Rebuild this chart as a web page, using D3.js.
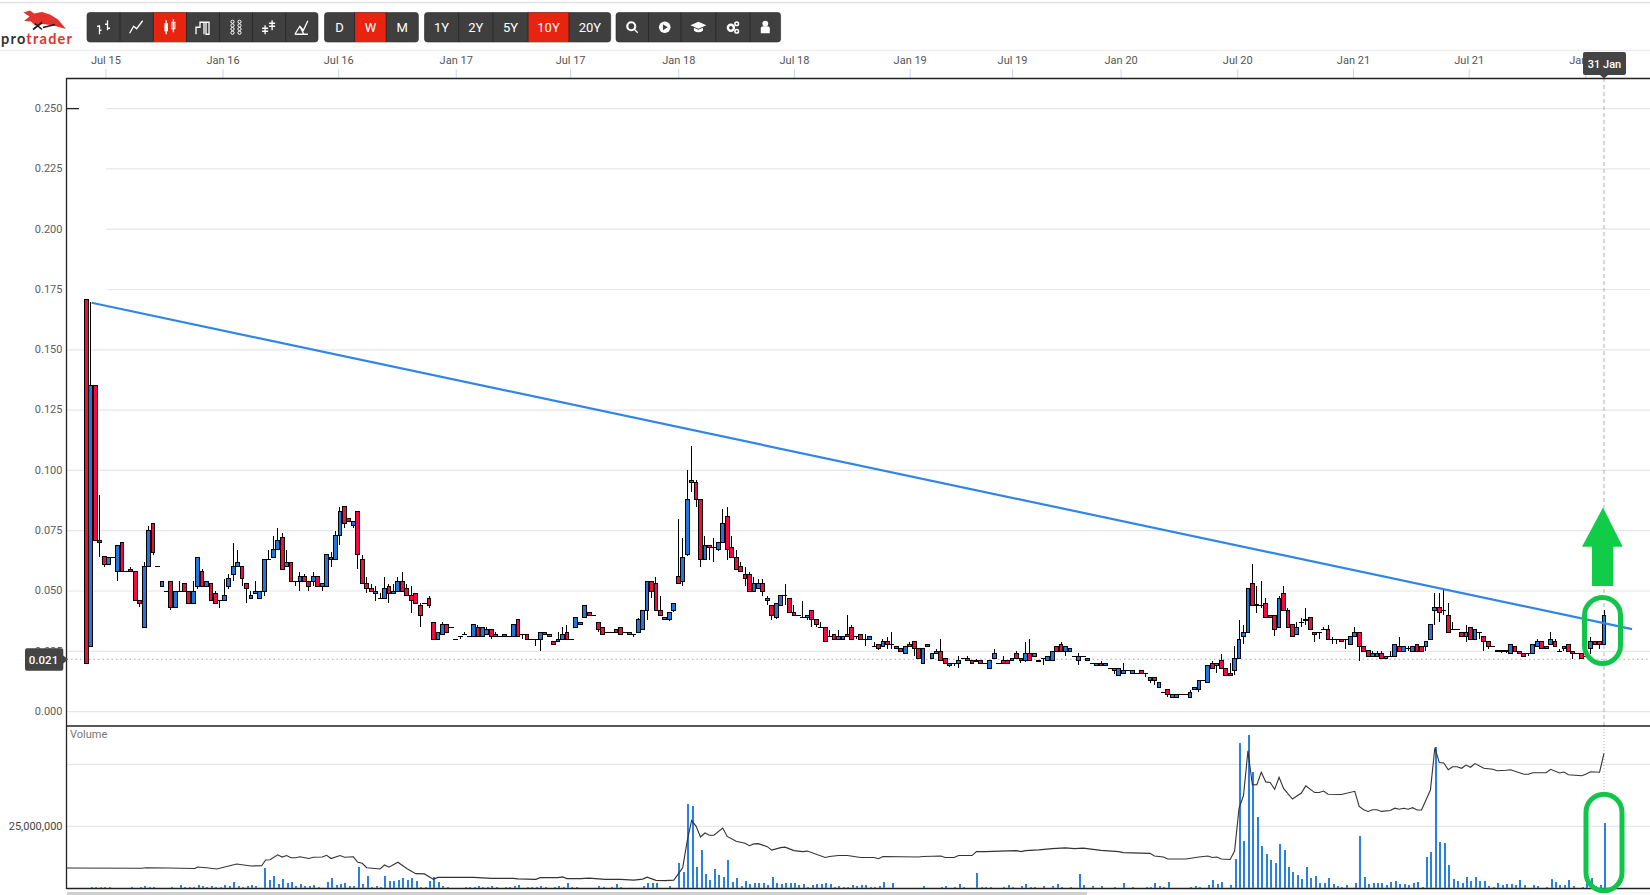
<!DOCTYPE html>
<html>
<head>
<meta charset="utf-8">
<title>protrader weekly chart</title>
<script src="https://cdn.jsdelivr.net/npm/d3@7"></script>
<style>
  html, body { margin: 0; padding: 0; background: #fff; overflow: hidden; }
  svg { display: block; font-family: Roboto, sans-serif; }
  .axis path { display: none; }
  .candle rect, .candle line, .vol rect { shape-rendering: crispEdges; }
</style>
</head>
<body>
<svg id="chart" width="1650" height="895"></svg>
<script>
// weekly candles, in thousandths of a dollar (row = 10 weeks)
const opens = [
171,27,135,71,64.5,61,64,58,70,58,
59,58,46,35,60,78,60,52,50,54,
43,50,53,50,45,52,58,52,53,49,
46,46,52,57,60,60,53,47,49,47,
50,63,64,67,72,60,62,54,54,56,
54,54,56,52,52,63,63,73,85,80,
77,83,63,53,51,49,47,47,52,49,
50,54,51,48,49,44,45,47,37,30,
32,36,35,30,31,32,31,31,35,31,
32,34,31,31,32,31,31,38,32,32,
30,30,30,33,32,29,29,30,33,30,
35,36,39,41,40,37,35,33,33,34,
35,33,33,32,33,34,42,54,53,42,
38,38,42,56,54,65,96,95,88,63,
69,68,67,70,81,68,64,60,57,57,
50,51,53,46,44,39,44,48,47,41,
40,39,39,42,38,35,35,31,32,30,
30,32,35,31,32,30,30,27,28,27,
29,28,27,26,24,27,29,26,20,28,
22,24,25,22,19,20,20,22,22,21,
21,21,20,18,22,20,21,21,21,24,
22,21,24,23,21,22,21,21,27,28,
25,25,23,21,23,21,20,19,20,19,
18,18,15,16,17,16,16,17,16,13,
14,10,8,9,6,6,7,7,6,9,
9,13,12,20,19,21,18,16,17,22,
31,33,53,44.5,44,45,40,40,35,49,
42,36,32,37,38,39,33,33,34,34,
30,30,30,30,28,31,33,27,25.5,23,
23,24,22,23,23,27,25,26,25,28,
27,27,30,42,43,42,40,34,34,33,
31,35,30,33,31,29,27,25.5,25,25.5,
24,27,25,24,24,24,27,29,27,28,
29,25,26,28,25,24,24,23,26,29,
29,28];
const closes = [
20,135,71,70,61,64,64,69,58,58,
58,46,45,60,75,66,60,54,50,43,
50,50,50,45,50,64,52,54,46,45,
46,48,55,60,62,55,51,48,50,50,
63,63,67,71,59,62,54,54,56,54,
52,56,52,53,65,64,73,83,78,79,
79,65,53,51,50,50,47,51,49,50,
54,50,48,46,45,40,45,44,30,33,
36,33,35,30,31,32,31,36,31,35,
34,31,32,31,31,31,36,31,32,30,
30,30,33,32,31,28,30,32,30,30,
39,37,44,40,40,34,32,33,33,33,
32,33,32,32,38,42,54,50,42,40,
39,41,45,53,64,88,95,88,63,69,
68,68,70,78,67,64,59,58,55,50,
53,53,50,47,40,45,48,48,41,40,
40,39,40,38,36,35,29,31,30,31,
31,31,30,31,30,30,31,27,26,29,
28,28,26,25,27,28,26,22,26,27,
24,25,21,20,20,20,21,22,21,20,
21,20,20,21,24,20,20,20,22,22,
21,24,21,24,21,22,23,25,25,25,
27,26,23,23,23,22,20,20,19,20,
18,17,18,17,17,17,16,16,16,14,
13,12,8,7,7,7,7,7,8,10,
13,13,19,18,20,18,15,15,22,30,
33,51,44,44,44,39,39,34,47,42,
35,31,35,37,38,34,32,33,34,30,
30,30,29,30,31,33,27,25,23,24,
24,22,23,23,28,25,27,26,27,25,
25,29,36,43,41,42,33,34,34,31,
33,30,34,33,29,27,27,25,25.5,25,
28,25,24,23,24,28,29,26,26,30,
27,25,27,25,24,24,22,23,29,28,
28,40];
const highs = [
171,170,135,90,64.5,64,64,69,70,58,
60,58,46,62,77,78,60,54,50,54,
50,54,53,50,54,64,59,54,53,50,
46,55,57,70,67,60,53,50,54,50,
63,67,73,76,74,67,62,54,58,57,
54,58,56,53,65,66,75,85,85,80,
79,83,65,56,53,52,49,56,53,53,
56,58,53,52,49,45,45,48,37,33,
37,36,35,30,31,33,31,36,36,35,
35,34,33,31,32,31,36,38,32,32,
30,30,33,33,32,29,33,35,36,30,
39,37,44,41,40,37,35,33,33,34,
35,33,33,32,39,42,54,54,56,48,
39,41,45,80,72,100,110,96,88,73,
69,72,70,84,85,73,67,62,60,58,
56,55,55,48,44,45,48,53,47,44,
40,46,40,42,38,37,35,34,32,34,
31,40,36,31,32,32,31,29,28,30,
31,33,27,26,27,29,29,26,26,28,
24,26,30,22,20,20,23,22,23,21,
22,21,20,21,26,20,23,21,22,25,
22,29,30,24,21,22,23,25,27,29,
27,26,23,24.5,23,22,20,20,21,20,
18,18,18,20,17,17,16,17,16,14,
14,12,8,9,7,7,7,7,9,10,
13,13,19,21,20,24,18,20,27,38,
36,51,61,52,54,47,40,40,48,52,
43,36,37,39,43,39,33,33,35,36,
31,30,30,30,31,35,33,27,25.5,25,
25,25,23,25,28,31,27,27,27,28,
27,29,36,49,49,51,45,37,34,33,
36,35,34,33,31,29,27,25.5,25.5,25.5,
28,27,25,24,24,28,30,29,27,33,
30,26,27,28,25,24,24,23,31,29,
29,42];
const lows = [
20,27,71,64,60,61,64,54,58,58,
58,46,43.5,34.5,60,65,60,52,50,42,
43,50,50,45,45,51,52,52,46,45,
43,46,51,54,60,52,45,47,49,47,
48,63,64,67,58.5,60,54,52,50,54,
50,52,52,50,52,60,63,69,76,79,
76,59,53,49,49.5,46,47,47,45,49,
50,50,48,41,45,35,45,43,29.5,29.5,
32,33,35,30,30,32,31,31,31,31,
32,30,31,31,31,31,31,31,30,30,
30,27,25,32,31,28,29,30,30,30,
35,36,39,40,40,33,32,33,33,33,
32,33,32,31,33,34,38,47,42,40,
38,37.5,41.5,53,52,64.5,91,85,60,63,
63,62,66.5,70,63,64,59,58,52,50,
50,51,48,44,38,38.5,44,44,41,40,
39.5,39,38,35,35,35,29,31,30,30,
29.5,31,29.5,30,30,27,30,27,25.5,27,
26,26,26,25,24,27,23,22,20,27,
22,24,21,20,18.5,19,18,22,21,20,
21,20,20,18,22,20,20,20,21,22,
20,20.5,21,23,21,19.5,21,21,25,25,
23,25,23,19.5,23,21,20,19,19,19,
18,15.5,15,16,17,16,16,16,14.5,12,
11,10,8,6,6,6,7,7,6,9,
8,13,12,18,16,18,15,15,15,22,
28,33,44,41,43,39,39,31.5,35,42,
35,31,32,35,36,34,29,30,34,30,
28,28,29,26,28,31,21,25,23,23,
23,22,22,23,23,25,25,25,25,25,
25,25,30,36,37,40,33,34,34,31,
29,30,30,30,25,26,27,25,24.5,24.5,
24,25,24,23,23,24,27,26,26,28,
27,25,25,25,22,24,22,23,24,28,
26,28];
// volume in millions of shares
const volumes = [
.1,.4,.4,.4,.4,.4,.1,.1,.1,.1,
.4,.1,.4,1.1,.5,.4,.1,.1,.1,.4,
.1,1.3,.4,.4,.4,1.3,.9,.4,1.1,.7,
.4,1.3,.9,2.6,1.1,.7,.9,1.3,.9,.1,
8.2,3.4,5,1.7,3.8,2.2,2.6,.9,1.7,.9,
.9,1.3,.4,.3,2.6,4.2,1.3,1.7,2.2,.9,
.9,8.6,1.7,5,.7,.9,.5,5,3,3,
3.4,4.2,3.4,4.2,3,.7,.4,3,4.6,2.6,
.9,.5,.1,.1,.1,.4,.4,.4,1.1,.5,
.5,.9,.5,.1,.7,.4,.9,1.3,.3,.7,
.4,.4,.9,.4,.1,.4,.9,.7,2.2,.4,
.4,.1,.1,.1,.1,.9,.5,.1,.4,1.7,
.5,.1,.1,.1,.1,.9,2.1,2.1,2.1,.1,
.1,.9,.1,10.2,6.6,33.8,33,8.6,15.4,5.8,
3.3,7.8,5.3,4.5,11.4,2.5,4.1,.9,2.9,1.7,
2.1,2.1,2.1,1.3,4.5,2.1,1.7,2.1,2.1,2.1,
1.3,1.7,.5,1.3,1.7,1.7,2.1,1.7,.5,.9,
.5,.5,1.3,.9,1.3,1.3,.4,.5,.9,2.5,
.3,2.1,.3,.3,.3,.3,.3,.1,.9,.1,
.3,.3,.4,.9,.1,.5,1.7,.5,.3,.1,
6.1,.5,.5,.5,.3,.1,.5,1.3,.5,.1,
.9,1.7,.4,.7,.1,.9,.1,.9,1.7,.5,
.1,.5,.1,5.7,1.3,.1,.9,.1,.9,.1,
.1,.5,.1,2.1,.1,.5,.1,.1,.5,.5,
2.1,.9,.5,2.5,.3,.3,.1,.1,.5,.9,
.5,.1,1.3,3.4,1.7,2.5,.3,1.3,11.8,58.6,
19,61.8,46.9,28.8,17,13.8,11.4,10.2,17.9,15.5,
8.6,6.6,5.4,3.8,8.6,4.2,5,2.1,2.1,4.2,
1.7,.9,.5,1.3,.1,2.1,21,4.6,1.7,2.1,
2.1,2.1,1.3,2.5,3,1.7,1.7,1.3,2.1,2.5,
.5,12.6,14.6,57,18.7,18.3,9.4,3.8,3,2.1,
4.6,3,4.6,3,3,.9,.5,2.1,1.3,1.7,
1.7,1.3,3.4,1.3,.3,1.3,.9,.1,.5,3.8,
2.5,1.3,1.3,3.4,.9,.3,.5,3,4.2,.9,
1.3,26.3];
// the dark line in the volume panel, week index + value in millions (turning points only)
const avgWeeks = [-4.4,12.4,13.5,18.4,24.4,25,27,29.3,33.8,37,39.4,40.3,41.3,43,44,45,46,47,48,50,51,53,54,55,57,58,60,61,62,63,66,67,68,70,72,74,76,78,79,87,91,96,97,101,102,106,107,108,111,113,116.5,120,123,125,126,128,130,132,134,135,136,137,138,139,140,141,143,144,146,148,149,150,151,153,154,156,157,159,161,162,166,167,169,171,174,177,178,179,187,188,192,193,195,196,199,200,202,207,209,210,211,214,217,220,222,224,228,232,233,239,240,242,243,247,250,252,253,254,255,257,258,259,260,261,262,263,264,265,266,267,268,269,271,273,274,276,277,278,279,282,285,286,287,288,289,290,291,293,294,295,296,297,298,299,300,302,303,304,305,306,307,308,309,310,311,312,314,316,317,319,320,323,324,325,328,329,331,332,333,336,337,338,340,341];
const avgValues = [8.2,8.1,8.3,8.2,8,8.6,8.3,7.8,9.8,9,9.1,11.4,11.5,13.5,12.6,13.2,12.3,12.3,12.7,12,12.5,12.6,13.3,12,13.2,12.5,12.7,10.5,10.1,8.3,7.8,9.4,8.5,10.5,8,5.9,5.8,3.6,4.4,4.4,4,4,3.8,3.6,4.3,4.3,4.6,3.9,3.9,4.1,3.6,3.6,3.3,3.7,4.5,3.2,3.1,3.3,8.3,18.9,27.3,25.1,20.7,22.3,21.4,21.4,24.3,20.9,19,18.2,17.2,17.9,18,16.8,15.4,16.4,16.6,15.2,14.8,15,12.4,12.8,13.2,13.2,12.4,12.4,11.9,12.8,12.6,12.8,13,12.4,12.4,13.2,13.2,14.8,14.8,15.1,15.2,14.8,15.2,15.5,16,16.3,16,16.2,15.3,14.8,14.4,14.1,13,12.6,11.8,11.8,12.6,13,12.4,12.6,11.8,11.6,15,32.3,37.4,55.4,41.7,41.8,46.8,42.9,42.7,39.9,44.8,40.3,36,38.4,41.3,38.6,38.6,39.2,37.9,37.8,39.1,33,31.7,31,31.7,31.7,31,31.4,32.3,31.9,32.3,31.9,32.5,31.6,31.6,39.6,56.7,50.7,50.5,47.8,49,49,48.4,49.7,48.8,50.3,48.4,48,47.4,47.6,47.8,46,46,46.6,46.6,48,46.5,46.9,45.8,45.4,46.1,47,46.8,54.4];

const priceTicks = [0,0.025,0.05,0.075,0.1,0.125,0.15,0.175,0.2,0.225,0.25];
const volumeGrid = [25,50];
const dateTickWeeks = [4.3,30.6,56.6,83,108.7,133,159,185,208,232.4,258.6,284.6,310.6,336.8];
const dateTickLabels = ["Jul 15","Jan 16","Jul 16","Jan 17","Jul 17","Jan 18","Jul 18","Jan 19","Jul 19","Jan 20","Jul 20","Jan 21","Jul 21","Jan 22"];
const lastPrice = 0.0217;
const lastPriceLabel = "0.021";
// trend line drawn on the chart, week index + price
const trendWeeks = [1.2,347.3];
const trendPrices = [0.1695,0.0342];

const svg = d3.select("#chart");

const x = d3.scaleLinear().domain([0, 341]).range([86.3, 1604]);
const y = d3.scaleLinear().domain([0, 0.25]).range([711.6, 108.6]);
const yVol = d3.scaleLinear().domain([0, 50]).range([888.3, 764.3]);

const left = 66.5, right = 1650;
const red = "#f50a3c", blue = "#1f77dd", green = "#11cc47", dark = "#3f3f3f";

// ---- page chrome ----
svg.append("line").attr("x1", 0).attr("x2", right).attr("y1", 2.5).attr("y2", 2.5).attr("stroke", "#e2e2e2").attr("stroke-width", 1.5);
svg.append("line").attr("x1", 0).attr("x2", right).attr("y1", 50.5).attr("y2", 50.5).attr("stroke", "#eeeeee").attr("stroke-width", 1.5);

drawLogo();
drawToolbar();

// ---- grid ----
const grid = svg.append("g");
grid.selectAll("line").data(priceTicks).enter().append("line")
  .attr("x1", function (d) { return d >= 0.175 ? 106 : left; })
  .attr("x2", right)
  .attr("y1", function (d) { return y(d); })
  .attr("y2", function (d) { return y(d); })
  .attr("stroke", "#e6e6e6")
  .attr("stroke-width", 1.2);
svg.append("line").attr("x1", 66).attr("x2", 79).attr("y1", y(0.25)).attr("y2", y(0.25)).attr("stroke", "#222").attr("stroke-width", 1.3);

const volGrid = svg.append("g");
volGrid.selectAll("line").data(volumeGrid).enter().append("line")
  .attr("x1", left).attr("x2", right)
  .attr("y1", function (d) { return yVol(d); })
  .attr("y2", function (d) { return yVol(d); })
  .attr("stroke", "#e6e6e6")
  .attr("stroke-width", 1.2);

// ---- axes ----
const xAxis = d3.axisTop(x)
  .tickValues(dateTickWeeks)
  .tickFormat(function (d, i) { return dateTickLabels[i]; })
  .tickSize(9).tickPadding(5);
const gx = svg.append("g").attr("class", "axis").attr("transform", "translate(0,78)").call(xAxis);
gx.selectAll("line").attr("stroke", "#ccd6eb");
gx.selectAll("text").attr("font-size", 11).attr("fill", "#555").attr("font-family", "Roboto");

const yAxis = d3.axisLeft(y).tickValues(priceTicks).tickFormat(d3.format(".3f")).tickSize(0).tickPadding(3.5);
const gy = svg.append("g").attr("class", "axis").attr("transform", "translate(66,-0.7)").call(yAxis);
gy.selectAll("text").attr("font-size", 11).attr("fill", "#5d5d5d").attr("font-family", "Roboto");

const yVolAxis = d3.axisLeft(yVol).tickValues([25]).tickFormat(function (d) { return d3.format(",")(d * 1e6); }).tickSize(0).tickPadding(3.5);
const gv = svg.append("g").attr("class", "axis").attr("transform", "translate(66,0)").call(yVolAxis);
gv.selectAll("text").attr("font-size", 11).attr("fill", "#444").attr("font-family", "Roboto");

svg.append("text").attr("x", 70).attr("y", 738).attr("font-size", 11).attr("fill", "#777").text("Volume");

// last price dotted line
svg.append("line").attr("x1", left).attr("x2", right)
  .attr("y1", y(lastPrice)).attr("y2", y(lastPrice))
  .attr("stroke", "#aaa").attr("stroke-dasharray", "1.5,3");

// crosshair on the last week
svg.append("line").attr("x1", x(341)).attr("x2", x(341)).attr("y1", 78).attr("y2", 726)
  .attr("stroke", "#b0b0b0").attr("stroke-dasharray", "4,3");
svg.append("line").attr("x1", x(341)).attr("x2", x(341)).attr("y1", 726).attr("y2", 795)
  .attr("stroke", "#b0b0b0").attr("stroke-dasharray", "1,2");

// ---- frame ----
[78.5, 726, 888.5].forEach(function (ly) {
  svg.append("line").attr("x1", left).attr("x2", right).attr("y1", ly).attr("y2", ly).attr("stroke", "#222").attr("stroke-width", 1.3);
});
svg.append("line").attr("x1", left).attr("x2", left).attr("y1", 78).attr("y2", 889).attr("stroke", "#222").attr("stroke-width", 1.3);
svg.append("rect").attr("x", 67).attr("y", 892).attr("width", 1020).attr("height", 3).attr("fill", "#cfcfcf");
svg.append("line").attr("x1", 1087).attr("x2", right).attr("y1", 893).attr("y2", 893).attr("stroke", "#eee");

// ---- volume bars + line ----
svg.append("g").attr("class", "vol").selectAll("rect").data(volumes).enter().append("rect")
  .attr("x", function (d, i) { return x(i); })
  .attr("y", function (d) { return yVol(d); })
  .attr("width", 2)
  .attr("height", function (d) { return yVol(0) - yVol(d); })
  .attr("fill", "#2a7fe6");

const avgLine = d3.line()
  .x(function (d, i) { return x(avgWeeks[i]); })
  .y(function (d) { return yVol(d); });
svg.append("path").datum(avgValues)
  .attr("d", avgLine)
  .attr("fill", "none")
  .attr("stroke", "#333")
  .attr("stroke-width", 1.1);

// ---- candles ----
const candles = svg.append("g").attr("class", "candle").selectAll("g").data(opens).enter().append("g");

candles.append("line")
  .attr("x1", function (d, i) { return x(i); })
  .attr("x2", function (d, i) { return x(i); })
  .attr("y1", function (d, i) { return y(highs[i] / 1000); })
  .attr("y2", function (d, i) { return y(lows[i] / 1000); })
  .attr("stroke", "#000");

// flat weeks still need a dash, a rect of height 0 would not paint
candles.append("rect")
  .attr("x", function (d, i) { return x(i) - 1.9; })
  .attr("y", function (d, i) { return y(Math.max(d, closes[i]) / 1000); })
  .attr("width", 3.8)
  .attr("height", function (d, i) { return Math.max(0.1, Math.abs(y(d / 1000) - y(closes[i] / 1000))); })
  .attr("fill", function (d, i) { return closes[i] >= d ? blue : red; })
  .attr("stroke", "#000");

// ---- trend line + annotations ----
svg.append("line")
  .attr("x1", x(trendWeeks[0])).attr("y1", y(trendPrices[0]))
  .attr("x2", x(trendWeeks[1])).attr("y2", y(trendPrices[1]))
  .attr("stroke", "#2f86e6").attr("stroke-width", 2.2);

svg.append("path")
  .attr("d", "M1603 507.5L1622.7 546.7H1613.3V586H1592V546.7H1582Z")
  .attr("fill", green);
svg.append("rect").attr("x", 1584.5).attr("y", 597.5).attr("width", 36).attr("height", 66).attr("rx", 18)
  .attr("fill", "none").attr("stroke", "#11c54a").attr("stroke-width", 5);
svg.append("rect").attr("x", 1586).attr("y", 794.3).attr("width", 36).attr("height", 96.5).attr("rx", 18)
  .attr("fill", "none").attr("stroke", "#11c54a").attr("stroke-width", 5);

// ---- tags ----
svg.append("path").attr("d", "M27 648.3H61.3a2 2 0 0 1 2 2V655.5L68 659.5L63.3 663.5V668.7a2 2 0 0 1 -2 2H27a2 2 0 0 1 -2 -2V650.3a2 2 0 0 1 2 -2Z").attr("fill", "#444");
svg.append("text").attr("x", 43.5).attr("y", 663.5).attr("text-anchor", "middle").attr("font-size", 11.5).attr("font-weight", 500).attr("fill", "#fff").text(lastPriceLabel);

svg.append("path").attr("d", "M1585 52H1624a2 2 0 0 1 2 2V73a2 2 0 0 1 -2 2H1608L1604 78.5L1600 75H1585a2 2 0 0 1 -2 -2V54a2 2 0 0 1 2 -2Z").attr("fill", "#444");
svg.append("text").attr("x", 1604.5).attr("y", 68).attr("text-anchor", "middle").attr("font-size", 11).attr("font-weight", 500).attr("fill", "#fff").text("31 Jan");

// ---- logo ----
function drawLogo() {
  const g = svg.append("g");
  g.append("path")
    .attr("d", "M30 10.5L34 13.5L42 12L50 14.5L58 19.5L66 29L57 26.5L50 25L43 24L35 25.5L31 21.5L24 21L29.5 16.5L23.5 12.5Z")
    .attr("fill", "#e2332d");
  g.append("path")
    .attr("d", "M33 29.5L42 22.5M35 23.5L42 29.5M43 27.5L55 24.5")
    .attr("stroke", "#1c1c1c").attr("stroke-width", 1.6).attr("fill", "none");
  const t = g.append("text").attr("x", 1).attr("y", 43.5).attr("font-family", "Lato").attr("font-size", 14.5).attr("font-weight", 700)
    .attr("textLength", 71).attr("lengthAdjust", "spacing");
  t.append("tspan").attr("fill", "#333").text("pro");
  t.append("tspan").attr("fill", "#e2332d").text("trader");
}

// ---- toolbar ----
function drawToolbar() {
  const groups = [
    { edges: [87, 120, 153.3, 186.5, 219.5, 252.5, 285.7, 318], active: 2, icons: ["ohlc", "line", "candle", "bars", "pnf", "hlc", "area"] },
    { edges: [324.5, 354.6, 386.2, 418.4], active: 1, labels: ["D", "W", "M"] },
    { edges: [424.5, 458.7, 492.9, 528, 569, 610.7], active: 3, labels: ["1Y", "2Y", "5Y", "10Y", "20Y"] },
    { edges: [616, 648.5, 681, 715.8, 750, 780.6], active: -1, icons: ["search", "play", "cap", "gears", "user"] }
  ];
  const top = 12.5, h = 29.5;
  groups.forEach(function (grp) {
    const g = svg.append("g");
    const n = grp.edges.length - 1;
    g.append("rect").attr("x", grp.edges[0]).attr("y", top).attr("width", grp.edges[n] - grp.edges[0]).attr("height", h)
      .attr("rx", 3).attr("fill", dark).attr("stroke", "#2c2c2c").attr("stroke-width", 0.6);
    for (let k = 0; k < n; k++) {
      const x0 = grp.edges[k], x1 = grp.edges[k + 1], cx = (x0 + x1) / 2, cy = top + h / 2;
      if (k === grp.active) {
        g.append("rect").attr("x", x0).attr("y", top).attr("width", x1 - x0).attr("height", h).attr("fill", "#e8230f");
      }
      if (k > 0) {
        g.append("line").attr("x1", x0).attr("x2", x0).attr("y1", top).attr("y2", top + h).attr("stroke", "#2b2b2b");
      }
      if (grp.labels) {
        g.append("text").attr("x", cx).attr("y", cy + 4.7).attr("text-anchor", "middle").attr("font-size", 13).attr("fill", "#fff").text(grp.labels[k]);
      } else {
        drawIcon(g, grp.icons[k], cx, cy);
      }
    }
  });
}

function drawIcon(g, name, cx, cy) {
  const ic = g.append("g").attr("transform", "translate(" + cx + "," + cy + ")");
  const lines = function (d) {
    ic.append("path").attr("d", d).attr("fill", "none").attr("stroke", "#fff").attr("stroke-width", 1.3);
  };
  if (name === "ohlc") lines("M-4 -2V7M-4 -1H-6.5M-4 3H-2M4 -7V3M4 -3H1.5M4 1H6.5");
  if (name === "line") lines("M-7 6L-3 -1L0 1.5L6 -6.5");
  if (name === "candle") {
    ic.append("rect").attr("x", -5.5).attr("y", -4).attr("width", 3.6).attr("height", 8).attr("fill", "#fff");
    ic.append("rect").attr("x", 2).attr("y", -5).attr("width", 3).attr("height", 6.5).attr("fill", "none").attr("stroke", "#fff");
    lines("M-3.7 -7V7M3.5 -8V5");
  }
  if (name === "bars") lines("M-7 7V0H-3V-5H1V7M1 -5H6V7H3V-5");
  if (name === "pnf") {
    [-3.5, 3.5].forEach(function (dx) {
      [-5.5, -1.8, 1.8, 5.5].forEach(function (dy) {
        ic.append("circle").attr("cx", dx).attr("cy", dy).attr("r", 1.6).attr("fill", "none").attr("stroke", "#fff");
      });
    });
  }
  if (name === "hlc") lines("M-4 -2V7M-7 1H-1M-7 4H-1M3 -7V3M0 -4H6M0 -1H6");
  if (name === "area") lines("M-7 7L-2 -1L1.5 3L6 -6.5M-7 7H6M-2 -1L2 7");
  if (name === "search") {
    ic.append("circle").attr("cx", -1).attr("cy", -1).attr("r", 4).attr("fill", "none").attr("stroke", "#fff").attr("stroke-width", 2.2);
    lines("M2 2L5.5 5.5");
  }
  if (name === "play") {
    ic.append("circle").attr("r", 5.8).attr("fill", "#fff");
    ic.append("path").attr("d", "M-1.8 -3L3 0L-1.8 3Z").attr("fill", dark);
  }
  if (name === "cap") {
    ic.append("path").attr("d", "M0 -5.5L8 -2L0 1.5L-8 -2ZM-4.5 0.5L0 2.5L4.5 0.5V3.5Q0 6.5 -4.5 3.5Z").attr("fill", "#fff");
  }
  if (name === "gears") {
    ic.append("circle").attr("cx", -2).attr("cy", 0.5).attr("r", 3).attr("fill", "none").attr("stroke", "#fff").attr("stroke-width", 2.4);
    ic.append("circle").attr("cx", 3.8).attr("cy", -3.5).attr("r", 1.8).attr("fill", "none").attr("stroke", "#fff").attr("stroke-width", 1.6);
    ic.append("circle").attr("cx", 3.8).attr("cy", 4).attr("r", 1.8).attr("fill", "none").attr("stroke", "#fff").attr("stroke-width", 1.6);
  }
  if (name === "user") {
    ic.append("circle").attr("cy", -3.7).attr("r", 2.9).attr("fill", "#fff");
    ic.append("path").attr("d", "M-4.5 6V1Q-4.5 -1 -2 -1H2Q4.5 -1 4.5 1V6Z").attr("fill", "#fff");
  }
}
</script>
</body>
</html>
